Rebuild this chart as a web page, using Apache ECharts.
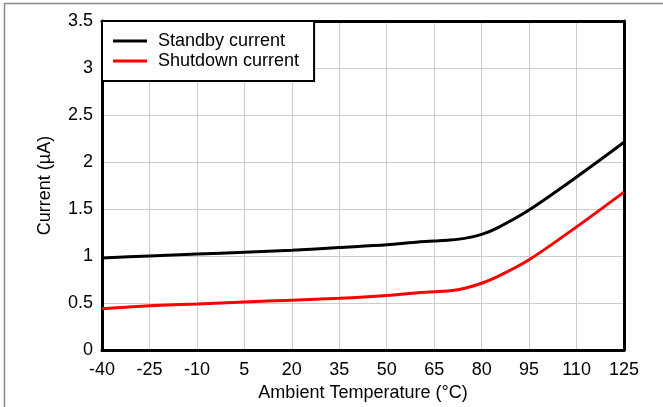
<!DOCTYPE html>
<html>
<head>
<meta charset="utf-8">
<script src="https://cdn.jsdelivr.net/npm/echarts@6/dist/echarts.min.js"></script>
<style>
  html, body { margin: 0; padding: 0; background: #fff; }
  #chart { width: 663px; height: 407px; }
</style>
</head>
<body>
<div id="chart"></div>
<script>
// Supply current versus ambient temperature
const temperatures = [-40, -25, -10, 5, 20, 35, 50, 60, 65, 70, 75, 80, 85, 95, 110, 125];
const standbyCurrent = [0.98, 1.00, 1.02, 1.04, 1.06, 1.09, 1.12, 1.15, 1.16, 1.17, 1.19, 1.23, 1.30, 1.49, 1.84, 2.21];
const shutdownCurrent = [0.44, 0.47, 0.49, 0.51, 0.53, 0.55, 0.58, 0.61, 0.62, 0.63, 0.66, 0.71, 0.78, 0.96, 1.31, 1.68];
const seriesNames = ['Standby current', 'Shutdown current'];
const xTitle = 'Ambient Temperature (\u00B0C)';
const yTitle = 'Current (\u00B5A)';

const font = 'Liberation Sans, Arial, sans-serif';
const fs = 18;
const pairs = (xs, ys) => xs.map((x, i) => [x, ys[i]]);
const frameLine = { show: true, onZero: false, lineStyle: { color: '#000', width: 3 } };

const chart = echarts.init(document.getElementById('chart'), null, { renderer: 'canvas' });
chart.setOption({
  backgroundColor: '#fff',
  animation: false,
  graphic: [{
    type: 'rect',
    shape: { x: 4.5, y: 3.5, width: 720, height: 500 },
    style: { fill: 'none', stroke: '#8a8a8a', lineWidth: 1.5 },
    silent: true
  }],
  grid: { left: 102, right: 39, top: 21, bottom: 54 },
  legend: {
    left: 102, top: 21,
    orient: 'vertical',
    backgroundColor: '#fff',
    borderColor: '#000', borderWidth: 2,
    padding: [10, 15, 10, 11],
    itemGap: 0,
    itemWidth: 34, itemHeight: 3,
    icon: 'rect',
    textStyle: { fontFamily: font, fontSize: fs, color: '#000', padding: [0, 0, 0, 6], lineHeight: 20 },
    data: seriesNames
  },
  xAxis: [{
    type: 'value',
    min: -40, max: 125, interval: 15,
    name: xTitle, nameLocation: 'middle', nameGap: 34,
    nameTextStyle: { fontFamily: font, fontSize: fs, color: '#000' },
    axisLine: frameLine,
    axisTick: { show: false },
    axisLabel: { fontFamily: font, fontSize: fs, color: '#000', margin: 11 },
    splitLine: { show: true, lineStyle: { color: '#cccccc', width: 1 } }
  }, {
    type: 'value', position: 'top',
    min: -40, max: 125, interval: 15,
    axisLine: frameLine, axisTick: { show: false },
    axisLabel: { show: false }, splitLine: { show: false }
  }],
  yAxis: [{
    type: 'value',
    min: 0, max: 3.5, interval: 0.5,
    name: yTitle, nameLocation: 'middle', nameGap: 48, nameRotate: 90,
    nameTextStyle: { fontFamily: font, fontSize: fs, color: '#000' },
    axisLine: frameLine,
    axisTick: { show: false },
    axisLabel: { fontFamily: font, fontSize: fs, color: '#000', margin: 9 },
    splitLine: { show: true, lineStyle: { color: '#cccccc', width: 1 } }
  }, {
    type: 'value', position: 'right',
    min: 0, max: 3.5, interval: 0.5,
    axisLine: frameLine, axisTick: { show: false },
    axisLabel: { show: false }, splitLine: { show: false }
  }],
  series: [
    {
      name: seriesNames[0], type: 'line', smooth: 0.3, showSymbol: false,
      color: '#000', lineStyle: { color: '#000', width: 3 },
      data: pairs(temperatures, standbyCurrent)
    },
    {
      name: seriesNames[1], type: 'line', smooth: 0.3, showSymbol: false,
      color: '#ff0000', lineStyle: { color: '#ff0000', width: 3 },
      data: pairs(temperatures, shutdownCurrent)
    }
  ]
});
</script>
</body>
</html>
